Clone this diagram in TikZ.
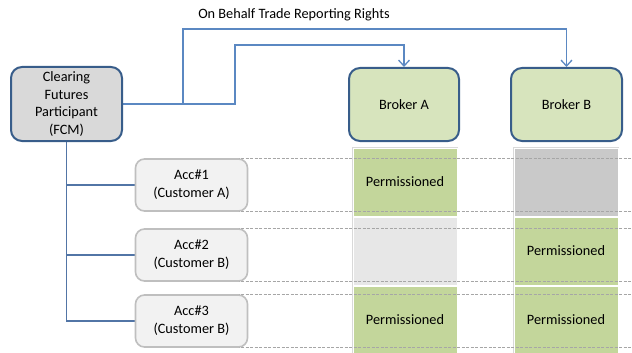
\documentclass[tikz,border=0pt]{standalone}
\usepackage{fontspec}
\setmainfont{Carlito}
\usetikzlibrary{arrows.meta,calc}
\pgfdeclarelayer{bg}
\pgfdeclarelayer{fg}
\pgfsetlayers{bg,main,fg}
\definecolor{boxborder}{HTML}{385D8A}
\definecolor{fcmfill}{HTML}{D9D9D9}
\definecolor{brokerfill}{HTML}{D7E4BD}
\definecolor{accfill}{HTML}{F2F2F2}
\definecolor{accborder}{HTML}{BFBFBF}
\definecolor{permgreen}{HTML}{C3D69B}
\definecolor{cellgrey}{HTML}{C9C9C9}
\definecolor{celllight}{HTML}{E7E7E7}
\definecolor{colborder}{HTML}{D9D9D9}
\definecolor{connblue}{HTML}{5B88C2}
\definecolor{treeblue}{HTML}{5275A6}
\definecolor{dashgrey}{HTML}{A6A6A6}
\tikzset{
  txt/.style={font=\fontsize{14.3}{17.7}\selectfont, align=center, text=black},
  bigbox/.style={txt, draw=boxborder, line width=2pt, rounded corners=11pt, inner sep=0pt},
  accbox/.style={txt, draw=accborder, fill=accfill, line width=1.6pt, rounded corners=9pt, inner sep=0pt, minimum width=112pt, minimum height=52pt},
  colbox/.style={draw=colborder, fill=white, line width=0.8pt, inner sep=0pt, minimum width=105pt, minimum height=210pt, anchor=north west},
  cellbox/.style={txt, draw=white, line width=1pt, inner sep=0pt, minimum width=104pt, minimum height=68pt, anchor=north west},
  conn/.style={draw=connblue, line width=1.5pt},
  tree/.style={draw=treeblue, line width=1.5pt},
  rowline/.style={draw=dashgrey, line width=0.8pt, dash pattern=on 3pt off 1.5pt},
  arrowtip/.style={-{Straight Barb[length=6pt,width=11pt,line width=1.3pt]}}
}
\begin{document}
\begin{tikzpicture}[x=1pt,y=-1pt]
\useasboundingbox (0,0) rectangle (632,353);

% permission columns
\begin{pgfonlayer}{bg}
\node[colbox] (colA) at (352,147) {};
\node[colbox] (colB) at (513,147) {};
\node[cellbox, fill=permgreen] (a1) at (352.5,147.5) {Permissioned};
\node[cellbox, fill=celllight] (a2) at (352.5,216.5) {};
\node[cellbox, fill=permgreen] (a3) at (352.5,285.5) {Permissioned};
\node[cellbox, fill=cellgrey] (b1) at (513.5,147.5) {};
\node[cellbox, fill=permgreen] (b2) at (513.5,216.5) {Permissioned};
\node[cellbox, fill=permgreen] (b3) at (513.5,285.5) {Permissioned};
\end{pgfonlayer}

% boxes
\begin{pgfonlayer}{fg}
\node[bigbox, fill=fcmfill, minimum width=111pt, minimum height=74pt] (fcm) at (66.5,104) {Clearing\\Futures\\Participant\\(FCM)};
\node[bigbox, fill=brokerfill, minimum width=110pt, minimum height=73pt] (brokerA) at (404,104.5) {Broker A};
\node[bigbox, fill=brokerfill, minimum width=111pt, minimum height=73pt] (brokerB) at (566.5,104.5) {Broker B};
\node[accbox] (acc1) at (191.5,185) {Acc\#1\\(Customer A)};
\node[accbox] (acc2) at (191.5,255) {Acc\#2\\(Customer B)};
\node[accbox] (acc3) at (191.5,321) {Acc\#3\\(Customer B)};
\end{pgfonlayer}

\coordinate (rightedge) at (632,0);
\coordinate (j1) at (183,29);
\coordinate (j2) at (235,45);

% dashed row lines
\foreach \a in {acc1,acc2,acc3}{
  \draw[rowline] (\a.north) -- (\a.north -| rightedge);
  \draw[rowline] (\a.south) -- (\a.south -| rightedge);
}

% title
\node[txt] (title) at (294,15) {On Behalf Trade Reporting Rights};

% rights connectors
\draw[conn, arrowtip] (fcm.east) -| (j1) -| (brokerB.north);
\draw[conn, arrowtip] (fcm.east) -| (j2) -| (brokerA.north);

% account tree
\draw[tree] (fcm.south) |- (acc1.west);
\draw[tree] (fcm.south) |- (acc2.west);
\draw[tree] (fcm.south) |- (acc3.west);
\end{tikzpicture}
\end{document}
